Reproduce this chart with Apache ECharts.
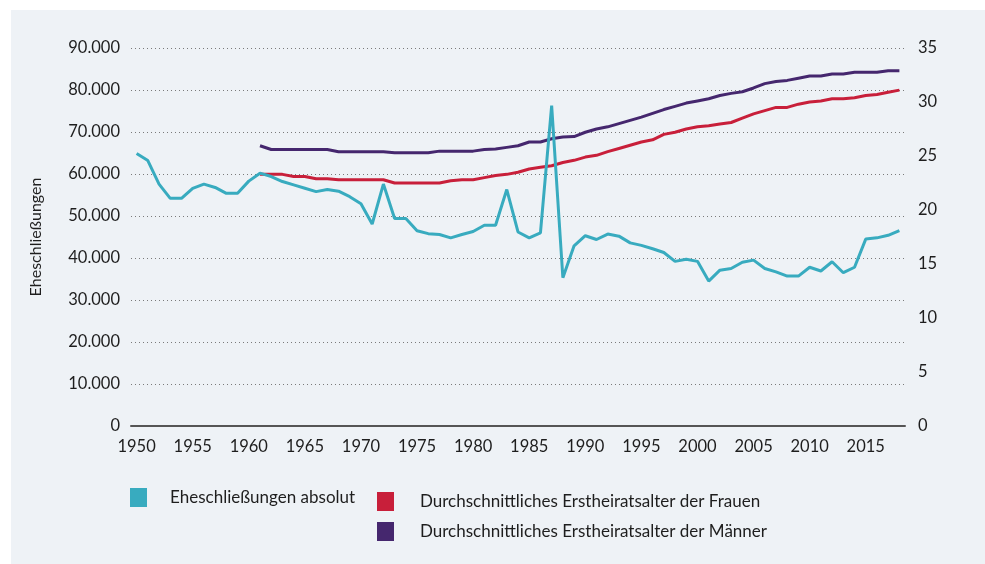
<!DOCTYPE html>
<html>
<head>
<meta charset="utf-8">
<script src="https://cdn.jsdelivr.net/npm/echarts@6/dist/echarts.min.js"></script>
<style>
  html, body { margin: 0; padding: 0; background: #fff; }
  #panel { position: absolute; left: 11px; top: 10px; right: 0; bottom: 0; background: #eef2f6; }
  #chart { position: absolute; left: 0; top: 0; width: 985px; height: 564px; }
</style>
</head>
<body>
<div id="panel"></div>
<div id="chart"></div>
<script>
// years 1950 - 2018
var years = []
for (var y = 1950; y <= 2018; y++) years.push(String(y))

// Eheschliessungen absolut
var marriages = [
  64900, 63200, 57600, 54200, 54200, 56600, 57600, 56800, 55400, 55400,
  58300, 60200, 59400, 58200, 57400, 56600, 55800, 56300, 55900, 54600,
  52900, 48100, 57600, 49400, 49400, 46500, 45800, 45600, 44800, 45600,
  46300, 47800, 47800, 56300, 46200, 44800, 46000, 76300, 35300, 42900,
  45300, 44400, 45700, 45200, 43600, 43000, 42200, 41300, 39200, 39700,
  39200, 34500, 37100, 37500, 39000, 39500, 37500, 36700, 35700, 35700,
  37800, 36900, 39100, 36500, 37800, 44500, 44800, 45400, 46500
]

// Erstheiratsalter Frauen (ab 1961)
var ageWomen = [
  null, null, null, null, null, null, null, null, null, null, null,
  23.3, 23.3, 23.3, 23.1, 23.1, 22.9, 22.9, 22.8, 22.8,
  22.8, 22.8, 22.8, 22.5, 22.5, 22.5, 22.5, 22.5, 22.7, 22.8,
  22.8, 23.0, 23.2, 23.3, 23.5, 23.8, 23.95, 24.1, 24.4, 24.6,
  24.9, 25.06, 25.4, 25.7, 26.0, 26.3, 26.5, 27.0, 27.2, 27.5,
  27.7, 27.8, 27.96, 28.1, 28.5, 28.9, 29.2, 29.5, 29.5, 29.8,
  30.0, 30.1, 30.3, 30.3, 30.4, 30.6, 30.7, 30.9, 31.1
]

// Erstheiratsalter Maenner (ab 1961)
var ageMen = [
  null, null, null, null, null, null, null, null, null, null, null,
  25.95, 25.6, 25.6, 25.6, 25.6, 25.6, 25.6, 25.4, 25.4,
  25.4, 25.4, 25.4, 25.3, 25.3, 25.3, 25.3, 25.45, 25.45, 25.45,
  25.45, 25.6, 25.65, 25.8, 25.95, 26.3, 26.3, 26.6, 26.75, 26.8,
  27.2, 27.5, 27.7, 28.0, 28.3, 28.6, 28.95, 29.3, 29.6, 29.9,
  30.1, 30.3, 30.6, 30.8, 30.95, 31.3, 31.7, 31.9, 32.0, 32.2,
  32.4, 32.4, 32.6, 32.6, 32.75, 32.75, 32.75, 32.9, 32.9
]

var names = [
  'Eheschließungen absolut',
  'Durchschnittliches Erstheiratsalter der Frauen',
  'Durchschnittliches Erstheiratsalter der Männer'
]
var colors = ['#38abbf', '#c81f3a', '#45276e']

var font = 'Lato, "Noto Sans", sans-serif'
var textColor = '#1e1e1e'

function thousands(v) {
  return String(v).replace(/\B(?=(\d{3})+(?!\d))/g, '.')
}

function legendFor(i, left, top, gap) {
  return {
    data: [names[i]],
    left: left,
    top: top,
    padding: 0,
    icon: 'rect',
    itemWidth: 17,
    itemHeight: 19,
    selectedMode: false,
    textStyle: {
      fontFamily: font,
      fontSize: 17,
      color: textColor,
      padding: [0, 0, 0, gap]
    }
  }
}

var chart = echarts.init(document.getElementById('chart'), null, { renderer: 'canvas' })

chart.setOption({
  backgroundColor: 'transparent',
  color: colors,
  animation: false,
  textStyle: { fontFamily: font },
  grid: {
    left: 131,
    right: 80,
    top: 48,
    bottom: 138
  },
  legend: [
    legendFor(0, 130, 488, 18),
    legendFor(1, 377, 492, 21),
    legendFor(2, 377, 522, 21)
  ],
  xAxis: {
    type: 'category',
    data: years,
    boundaryGap: true,
    axisTick: { show: false },
    axisLine: { lineStyle: { color: '#555', width: 2 } },
    axisLabel: {
      interval: 4,
      margin: 12,
      fontSize: 16.5,
      color: textColor,
      fontFamily: font
    }
  },
  yAxis: [
    {
      type: 'value',
      min: 0,
      max: 90000,
      interval: 10000,
      name: 'Eheschließungen',
      nameLocation: 'middle',
      nameGap: 87,
      nameRotate: 90,
      nameTextStyle: { fontSize: 16, color: textColor, fontFamily: font },
      axisLine: { show: false },
      axisTick: { show: false },
      axisLabel: {
        margin: 11,
        fontSize: 16.5,
        color: textColor,
        fontFamily: font,
        formatter: thousands
      },
      splitLine: {
        lineStyle: { color: '#7a7a7a', width: 1, type: [1, 3] }
      }
    },
    {
      type: 'value',
      min: 0,
      max: 35,
      interval: 5,
      position: 'right',
      axisLine: { show: false },
      axisTick: { show: false },
      splitLine: { show: false },
      axisLabel: {
        margin: 13,
        fontSize: 16.5,
        color: textColor,
        fontFamily: font
      }
    }
  ],
  series: [
    {
      name: names[0],
      type: 'line',
      yAxisIndex: 0,
      data: marriages,
      showSymbol: false,
      lineStyle: { width: 3, color: colors[0] },
      itemStyle: { color: colors[0] },
      z: 3
    },
    {
      name: names[1],
      type: 'line',
      yAxisIndex: 1,
      data: ageWomen,
      showSymbol: false,
      lineStyle: { width: 3, color: colors[1] },
      itemStyle: { color: colors[1] },
      z: 2
    },
    {
      name: names[2],
      type: 'line',
      yAxisIndex: 1,
      data: ageMen,
      showSymbol: false,
      lineStyle: { width: 3, color: colors[2] },
      itemStyle: { color: colors[2] },
      z: 2
    }
  ]
})
</script>
</body>
</html>
